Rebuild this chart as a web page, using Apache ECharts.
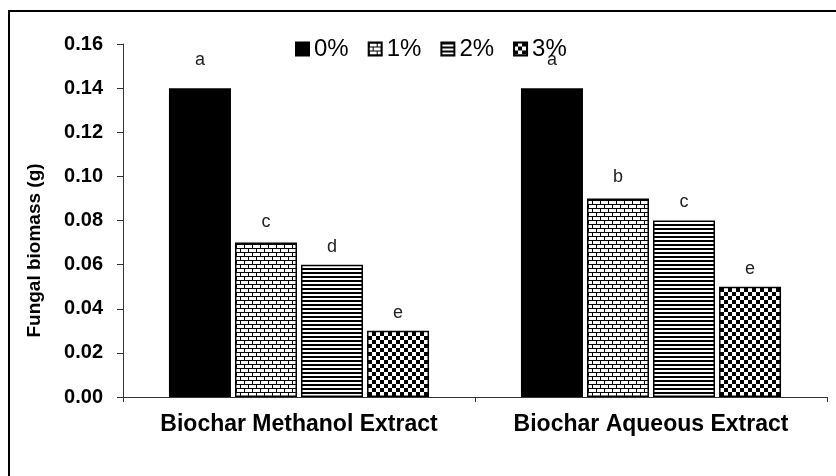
<!DOCTYPE html>
<html><head><meta charset="utf-8">
<script src="https://cdn.jsdelivr.net/npm/echarts@6/dist/echarts.min.js"></script>
<style>html,body{margin:0;padding:0;background:#fff}#c{width:836px;height:476px;position:relative}
#frame{position:absolute;left:8px;top:10px;width:840px;height:480px;border:2px solid #000;box-sizing:border-box;pointer-events:none}</style>
</head><body><div id="c"></div><div id="frame"></div>
<script>
const categories = ['Biochar Methanol Extract', 'Biochar Aqueous Extract'];
const seriesNames = ['0%', '1%', '2%', '3%'];
const values0 = [0.14, 0.14];
const values1 = [0.07, 0.09];
const values2 = [0.06, 0.08];
const values3 = [0.03, 0.05];
const letters0 = ['a', 'a'];
const letters1 = ['c', 'b'];
const letters2 = ['d', 'c'];
const letters3 = ['e', 'e'];
const yTicks = [0, 0.02, 0.04, 0.06, 0.08, 0.10, 0.12, 0.14, 0.16];

function makeCanvas(w, h, draw) {
  const cv = document.createElement('canvas');
  cv.width = w; cv.height = h;
  const ctx = cv.getContext('2d');
  ctx.fillStyle = '#fff'; ctx.fillRect(0, 0, w, h);
  ctx.fillStyle = '#000';
  draw(ctx);
  return cv;
}
const brick = makeCanvas(8, 8, ctx => {
  ctx.fillRect(0, 0, 8, 1);
  ctx.fillRect(0, 4, 8, 1);
  ctx.fillRect(0, 0, 1, 4);
  ctx.fillRect(4, 4, 1, 4);
});
const stripes = makeCanvas(4, 4, ctx => { ctx.fillRect(0, 0, 4, 2); });
const checker = makeCanvas(8, 8, ctx => { ctx.fillRect(0, 0, 4, 4); ctx.fillRect(4, 4, 4, 4); });

const fills = ['#000', { image: brick, repeat: 'repeat' }, { image: stripes, repeat: 'repeat' }, { image: checker, repeat: 'repeat' }];
const labelDistances = [19, 12, 9, 9];
const allValues = [values0, values1, values2, values3];
const allLetters = [letters0, letters1, letters2, letters3];
const FONT = 'Liberation Sans, Arial, sans-serif';

const chart = echarts.init(document.getElementById('c'), null, { renderer: 'canvas' });
chart.setOption({
  animation: false,
  backgroundColor: 'transparent',
  legend: {
    top: 37, left: 295, itemWidth: 13, itemHeight: 13, itemGap: 19,
    icon: 'rect', padding: 0,
    textStyle: { fontFamily: FONT, fontSize: 24, color: '#000' },
    data: seriesNames
  },
  grid: { left: 123, right: 9, top: 44, bottom: 79, containLabel: false },
  xAxis: {
    type: 'category', data: categories,
    axisLine: { lineStyle: { color: '#333', width: 1 } },
    axisTick: { show: true, length: 5, lineStyle: { color: '#333' } },
    axisLabel: { interval: 0, margin: 16, fontFamily: FONT, fontWeight: 'bold', fontSize: 23, color: '#000' }
  },
  yAxis: {
    type: 'value', min: 0, max: 0.16, interval: 0.02,
    name: 'Fungal biomass (g)', nameLocation: 'middle', nameGap: 79,
    nameTextStyle: { fontFamily: FONT, fontWeight: 'bold', fontSize: 19, color: '#000', padding: [0, 60, 0, 0] },
    axisLine: { show: true, lineStyle: { color: '#333', width: 1 } },
    axisTick: { show: true, length: 6, lineStyle: { color: '#333' } },
    splitLine: { show: false },
    axisLabel: { margin: 20, fontFamily: FONT, fontWeight: 'bold', fontSize: 20, color: '#000',
      formatter: v => { const t = yTicks.find(x => Math.abs(x - v) < 1e-9); return (t !== undefined ? t : v).toFixed(2); } }
  },
  series: seriesNames.map((name, i) => ({
    name, type: 'bar', barWidth: 62, barGap: '6.5%',
    itemStyle: { color: fills[i], borderColor: '#000', borderWidth: 1.5 },
    label: { show: true, position: 'top', distance: labelDistances[i], fontFamily: FONT, fontSize: 18, color: '#222',
      formatter: p => allLetters[i][p.dataIndex] },
    data: allValues[i]
  }))
});
</script></body></html>
